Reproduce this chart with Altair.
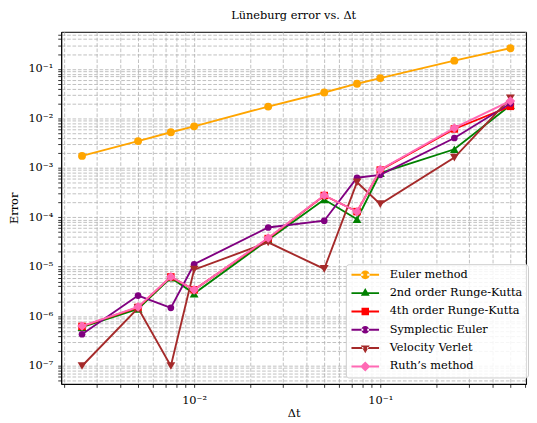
import altair as alt
import pandas as pd
import math

# ---- data ----
dt = [0.0025, 0.005, 0.0075, 0.01, 0.025, 0.05, 0.075, 0.1, 0.25, 0.5]
euler = [1.74e-3, 3.47e-3, 5.24e-3, 6.9e-3, 1.73e-2, 3.33e-2, 5.02e-2, 6.53e-2, 1.47e-1, 2.62e-1]
rk2 = [6.0e-7, 1.4e-6, 6.0e-6, 2.85e-6, 3.5e-5, 2.28e-4, 9.1e-5, 7.8e-4, 2.37e-3, 1.85e-2]
rk4 = [6.2e-7, 1.5e-6, 6.2e-6, 3.4e-6, 3.7e-5, 2.75e-4, 1.3e-4, 9.0e-4, 6.1e-3, 1.75e-2]
symp = [4.3e-7, 2.6e-6, 1.47e-6, 1.12e-5, 6.2e-5, 8.5e-5, 6.3e-4, 7.2e-4, 4.0e-3, 2.0e-2]
verlet = [9.8e-8, 1.45e-6, 9.8e-8, 8.7e-6, 3.1e-5, 9.0e-6, 5.1e-4, 1.84e-4, 1.61e-3, 2.55e-2]
ruth = [6.3e-7, 1.54e-6, 6.27e-6, 3.4e-6, 3.8e-5, 2.78e-4, 1.29e-4, 9.2e-4, 6.4e-3, 2.25e-2]

names = ["Euler method", "2nd order Runge-Kutta", "4th order Runge-Kutta",
         "Symplectic Euler", "Velocity Verlet", "Ruth\u2019s method"]
series = [euler, rk2, rk4, symp, verlet, ruth]

# tick positions
x_major = [0.01, 0.1]
x_minor = [0.002, 0.003, 0.004, 0.005, 0.006, 0.007, 0.008, 0.009,
           0.02, 0.03, 0.04, 0.05, 0.06, 0.07, 0.08, 0.09,
           0.2, 0.3, 0.4, 0.5, 0.6]
y_major = [1e-7, 1e-6, 1e-5, 1e-4, 1e-3, 1e-2, 1e-1]
y_minor = [m * 10.0 ** e for e in range(-8, 0) for m in range(2, 10)]

# ---- styles ----
colors = ["orange", "green", "red", "purple", "brown", "hotpink"]
shapes = ["circle", "triangle-up", "square", "circle", "triangle-down", "diamond"]
sizes = [64, 80, 58, 46, 80, 95]
FONT = "DejaVu Serif"
FS = 11.5

# legend symbols: line segment + marker (units: 5 px)
seg = "M-2.8,-0.2L-0.4,-0.2L-0.4,0.2L-2.8,0.2ZM0.4,-0.2L2.8,-0.2L2.8,0.2L0.4,0.2Z"
def circ(r):
    return f"M-{r},0A{r},{r} 0 1,0 {r},0A{r},{r} 0 1,0 -{r},0Z"
legend_paths = [
    seg + circ(0.9),
    seg + "M0,-1.04L0.9,0.52L-0.9,0.52Z",
    seg + "M-0.76,-0.76L0.76,-0.76L0.76,0.76L-0.76,0.76Z",
    seg + circ(0.78),
    seg + "M0,1.04L0.9,-0.52L-0.9,-0.52Z",
    seg + "M0,-1.02L1.02,0L0,1.02L-1.02,0Z",
]

SUP = {"-": "\u207b", "0": "\u2070", "1": "\u00b9", "2": "\u00b2", "3": "\u00b3",
       "4": "\u2074", "5": "\u2075", "6": "\u2076", "7": "\u2077", "8": "\u2078", "9": "\u2079"}

def label_expr(majors):
    expr = "''"
    for v in reversed(majors):
        e = int(round(math.log10(v)))
        lab = "10" + "".join(SUP[c] for c in str(e))
        expr = f"abs(datum.value - {v!r}) < {v!r} * 1e-6 ? '{lab}' : " + expr
    return expr

rows = []
for n, vals in zip(names, series):
    for d, v in zip(dt, vals):
        rows.append({"series": n, "dt": d, "err": v})
df = pd.DataFrame(rows)

W, H = 472, 357.5
xdom = [10 ** -2.714, 10 ** -0.217]
ydom = [10 ** -7.371, 10 ** -0.249]

axis_common = dict(
    grid=True, gridColor="#b0b0b0", gridWidth=0.8, gridDash=[3.7, 1.8],
    domainColor="black", domainWidth=1, tickColor="black", tickSize=3.5, tickWidth=0.8,
    labelFont=FONT, labelFontSize=FS, labelColor="black", labelOverlap=False,
    titleFont=FONT, titleFontSize=FS, titleFontWeight="normal", titleColor="black",
)

X = alt.X("dt:Q", scale=alt.Scale(type="log", domain=xdom, nice=False),
          axis=alt.Axis(values=sorted(x_major + x_minor), labelExpr=label_expr(x_major),
                        title="\u0394t", labelPadding=7, titlePadding=2, **axis_common))
Y = alt.Y("err:Q", scale=alt.Scale(type="log", domain=ydom, nice=False),
          axis=alt.Axis(values=sorted(y_major + y_minor), labelExpr=label_expr(y_major),
                        title="Error", labelPadding=5, titlePadding=9, **axis_common))

layers = []
for n, c, s, sz in zip(names, colors, shapes, sizes):
    layers.append(
        alt.Chart(df).transform_filter(alt.datum.series == n).mark_line(
            color=c, strokeWidth=1.9, clip=False,
            point=alt.OverlayMarkDef(shape=s, size=sz, filled=True, color=c, opacity=1, strokeWidth=0),
        ).encode(x=X, y=Y, order="dt:Q")
    )

leg = alt.Legend(
    title=None, orient="none", legendX=289, legendY=236,
    fillColor="rgba(255,255,255,0.85)", strokeColor="#cccccc", cornerRadius=3,
    padding=5, rowPadding=5.6, symbolSize=100, symbolOffset=9, labelOffset=19,
    symbolStrokeWidth=0, symbolOpacity=1, labelFont=FONT, labelFontSize=FS,
    labelColor="black", labelLimit=0,
)
legend_layer = alt.Chart(df).transform_filter("false").mark_point(
    filled=True, opacity=1, size=100, strokeWidth=0
).encode(
    x=X, y=Y,
    color=alt.Color("series:N", scale=alt.Scale(domain=names, range=colors), legend=leg),
    shape=alt.Shape("series:N", scale=alt.Scale(domain=names, range=legend_paths), legend=leg),
)

chart = alt.layer(*layers, legend_layer).properties(
    width=W, height=H,
    title=alt.TitleParams("L\u00fcneburg error vs. \u0394t", font=FONT, fontSize=FS,
                          fontWeight="normal", color="black", offset=7),
    autosize=alt.AutoSizeParams(type="none"),
    padding={"left": 54, "top": 21, "right": 3, "bottom": 33},
).configure_view(stroke="black", strokeWidth=1)

chart.save("out.html", embed_options={"renderer": "svg", "actions": False})
